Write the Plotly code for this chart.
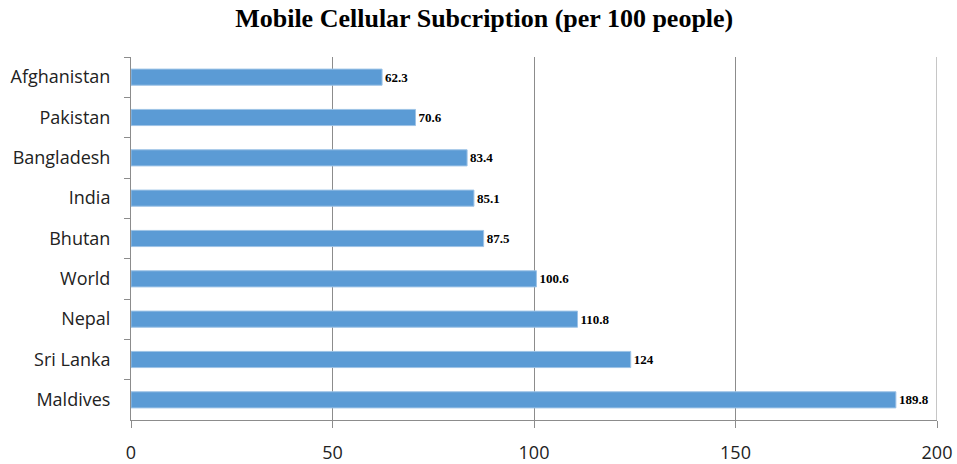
import plotly.graph_objects as go

countries = ["Afghanistan", "Pakistan", "Bangladesh", "India", "Bhutan",
             "World", "Nepal", "Sri Lanka", "Maldives"]
values = [62.3, 70.6, 83.4, 85.1, 87.5, 100.6, 110.8, 124, 189.8]
labels = ["62.3", "70.6", "83.4", "85.1", "87.5", "100.6", "110.8", "124", "189.8"]
x_ticks = [0, 50, 100, 150, 200]

GRID = "#8C8C8C"

fig = go.Figure(go.Bar(
    x=values, y=countries, orientation="h",
    marker=dict(color="#5B9BD5", line=dict(color="#9DC3E6", width=1)),
    text=labels, textposition="outside", cliponaxis=False,
    textfont=dict(family="Liberation Serif", size=13, color="#000000"),
    texttemplate="<b>%{text}</b>",
))

# gridline at the right end of the axis (plotly hides grid at the plot edge)
fig.add_shape(type="line", xref="x", yref="paper", x0=x_ticks[-1], x1=x_ticks[-1],
              y0=0, y1=1, line=dict(color=GRID, width=1))

fig.update_layout(
    width=957, height=464,
    margin=dict(l=131, r=20, t=57, b=44),
    paper_bgcolor="white", plot_bgcolor="white",
    title=dict(text="<b>Mobile Cellular Subcription (per 100 people)</b>",
               x=0.506, xanchor="center", y=0.961, yanchor="middle",
               font=dict(family="Liberation Serif", size=26, color="#000000")),
    bargap=0.6,
    showlegend=False,
)
fig.update_xaxes(
    range=[0, 200], tickvals=x_ticks, automargin=False,
    showgrid=True, gridcolor=GRID, gridwidth=1,
    zeroline=False, showline=True, linecolor=GRID, linewidth=1,
    ticks="outside", ticklen=7, tickcolor=GRID, ticklabelstandoff=9,
    tickfont=dict(family="Open Sans", size=18, color="#222222"),
)
fig.update_yaxes(
    autorange="reversed", type="category", automargin=False,
    showgrid=False, showline=True, linecolor=GRID, linewidth=1,
    ticks="outside", ticklen=6, tickcolor=GRID, tickson="boundaries",
    ticklabelstandoff=16,
    tickfont=dict(family="Open Sans", size=18, color="#222222"),
)

fig.write_html(
    "out.html",
    config={"displayModeBar": False},
    post_script="document.body.style.margin='0';"
                "document.documentElement.style.overflow='hidden';",
)
